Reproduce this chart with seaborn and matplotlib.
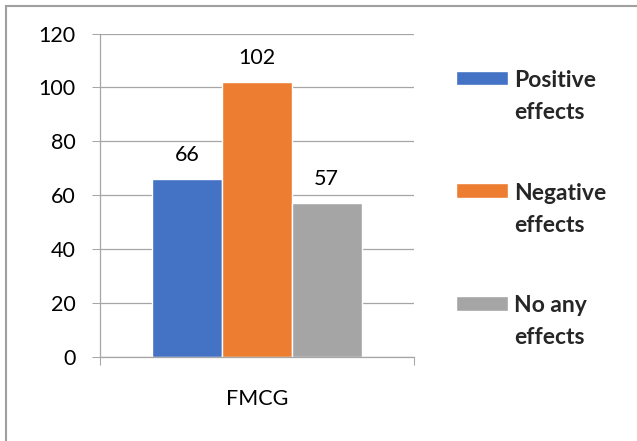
import pandas as pd
import seaborn as sns
import matplotlib.pyplot as plt
from matplotlib.patches import Rectangle
from matplotlib.legend_handler import HandlerPatch

# Data
sector = ["FMCG"]
effects = ["Positive effects", "Negative effects", "No any effects"]
counts = [66, 102, 57]
colors = ["#4472C4", "#ED7D31", "#A5A5A5"]

df = pd.DataFrame({"sector": sector * len(effects), "effect": effects, "count": counts})

sns.set_theme(style="white")
plt.rcParams['font.family'] = ['Lato', 'DejaVu Sans']
grey = "#a6a6a6"
fs = 15.5
leg_fs = 16.5

fig = plt.figure(figsize=(6.37, 4.41), dpi=100)
ax = fig.add_axes([100/637, 1 - 357/441, 314/637, 323.5/441])

sns.barplot(data=df, x="sector", y="count", hue="effect", palette=colors,
            saturation=1, width=0.666, errorbar=None, ax=ax)

for c in ax.containers:
    ax.bar_label(c, padding=10, fontsize=fs, color="black")

ax.set_xlim(-0.5, 0.5)
ax.set_ylim(0, 120)
ax.set_yticks(range(0, 121, 20))
ax.set_xticks([0])
ax.set_xticklabels(sector)
ax.set_xticks([-0.5, 0.5], minor=True)
ax.tick_params(axis="x", which="major", length=0, pad=23, labelsize=fs, colors="black")
ax.tick_params(axis="x", which="minor", length=5.5, width=0.75, color=grey, bottom=True)
ax.tick_params(axis="y", length=5.8, width=0.75, color=grey, pad=12, labelsize=fs, labelcolor="black", left=True)
ax.set_xlabel("")
ax.set_ylabel("")
ax.yaxis.grid(True, color=grey, linewidth=0.9)
ax.set_axisbelow(True)
for s in ["top", "right"]:
    ax.spines[s].set_visible(False)
for s in ["left", "bottom"]:
    ax.spines[s].set_color(grey)
    ax.spines[s].set_linewidth(0.9)

# legend: patch aligned with the first text line
line_sp = 1.65
def first_line_patch(legend, orig_handle, xdescent, ydescent, width, height, fontsize):
    return Rectangle((-xdescent, -ydescent + 0.5 * line_sp * fontsize), width, height)

handles = ax.get_legend().legend_handles
ax.get_legend().remove()
labels = ["\n".join(e.rsplit(" ", 1)) for e in effects]
leg = fig.legend(handles, labels, loc="upper left", bbox_to_anchor=(456/637, 1 - 70/441),
                 frameon=False, borderpad=0, borderaxespad=0,
                 handlelength=52/22.9, handleheight=14/22.9,
                 handletextpad=0.25, labelspacing=2.6,
                 prop={"size": leg_fs, "weight": "bold"},
                 handler_map={h: HandlerPatch(patch_func=first_line_patch) for h in handles})
for t in leg.get_texts():
    t.set_linespacing(line_sp)

# outer chart frame
fig.add_artist(Rectangle((6/637, -0.2), 1.2, 1.2 - 6/441, transform=fig.transFigure,
                         facecolor="none", edgecolor="#a0a0a0", linewidth=1.5))

fig.savefig("out.png", dpi=100)
